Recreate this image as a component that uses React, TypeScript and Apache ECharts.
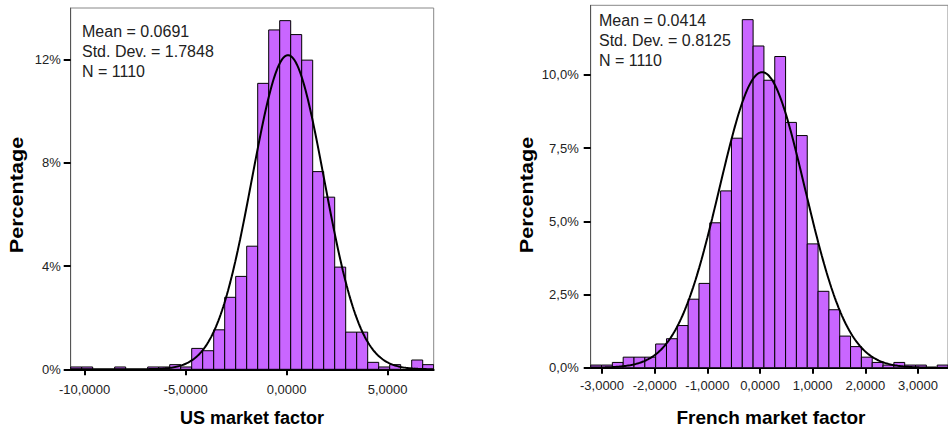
import React, { useEffect, useRef } from 'react';
import * as echarts from 'echarts';

// ---- US market factor histogram ----
const US_MEAN = 0.0691;
const US_SD = 1.7848;
const US_N = 1110;
const US_BIN_START = -10.69;
const US_BIN_WIDTH = 0.5446;
const US_PCT = [
  0.09, 0.09, 0, 0, 0.09, 0, 0, 0.09, 0.09, 0.18, 0.09,
  0.81, 0.72, 1.53, 2.79, 3.6, 4.77, 11.08, 13.15, 13.51, 12.97, 11.98, 7.66, 6.67, 3.96, 1.44, 1.44,
  0.27, 0.09, 0.18, 0, 0.36, 0.18,
];
const US_X_TICKS = [-10, -5, 0, 5];
const US_Y_TICKS = [0, 4, 8, 12];
const US_Y_MAX = 14;

// ---- French market factor histogram ----
const FR_MEAN = 0.0414;
const FR_SD = 0.8125;
const FR_N = 1110;
const FR_BIN_START = -3.215;
const FR_BIN_WIDTH = 0.2056;
const FR_PCT = [
  0.09, 0.09, 0.18, 0.36, 0.36, 0.36, 0.81, 0.99,
  1.44, 2.34, 2.88, 4.95, 6.04, 7.84,
  11.89, 10.99, 9.82, 10.63, 8.38, 7.93,
  4.23, 2.61, 1.98, 1.08, 0.72, 0.36, 0.18, 0.09, 0.18, 0.09, 0.09, 0, 0.09,
];
const FR_X_TICKS = [-3, -2, -1, 0, 1, 2, 3];
const FR_Y_TICKS = [0, 2.5, 5, 7.5, 10];
const FR_Y_MAX = 12.38;

const FONT = 'Liberation Sans, Arial, sans-serif';
const BAR_FILL = '#c966ff';

function bins(start: number, width: number, pct: number[]) {
  return pct.map((p, i) => [start + i * width, start + (i + 1) * width, p]);
}

function normalCurve(mean: number, sd: number, width: number, lo: number, hi: number) {
  const pts: number[][] = [];
  const steps = 300;
  for (let i = 0; i <= steps; i++) {
    const x = lo + ((hi - lo) * i) / steps;
    const z = (x - mean) / sd;
    const y = (100 * width * Math.exp(-0.5 * z * z)) / (sd * Math.sqrt(2 * Math.PI));
    pts.push([x, y]);
  }
  return pts;
}

const commaFmt = (d: number) => (v: number) => v.toFixed(d).replace('.', ',');

function renderBar(params: any, api: any) {
  const h = api.value(2);
  if (!h) return null;
  const p0 = api.coord([api.value(0), h]);
  const p1 = api.coord([api.value(1), 0]);
  return {
    type: 'rect',
    shape: { x: p0[0], y: p0[1], width: p1[0] - p0[0], height: p1[1] - p0[1] },
    style: { fill: BAR_FILL, stroke: '#000', lineWidth: 1 },
  };
}

export default function App() {
  const ref = useRef<HTMLDivElement>(null);
  useEffect(() => {
    if (!ref.current) return;
    const chart = echarts.init(ref.current, null, { renderer: 'svg' });
    const usMin = US_BIN_START;
    const usMax = US_BIN_START + US_PCT.length * US_BIN_WIDTH;
    const frMin = FR_BIN_START;
    const frMax = FR_BIN_START + FR_PCT.length * FR_BIN_WIDTH;

    const xAxisBase = (min: number, max: number, ticks: number[], gridIndex: number, margin: number) => ({
      type: 'value',
      gridIndex,
      min,
      max,
      splitLine: { show: false },
      axisLine: { show: true, onZero: false, lineStyle: { color: '#000', width: 2 } },
      axisTick: { show: true, customValues: ticks, length: 6, inside: false, lineStyle: { color: '#000', width: 2 } },
      axisLabel: {
        customValues: ticks,
        formatter: commaFmt(4),
        margin,
        color: '#222',
        fontFamily: FONT,
        fontSize: 13,
      },
    });
    const yAxisBase = (max: number, ticks: number[], gridIndex: number, fmt: (v: number) => string, margin: number) => ({
      type: 'value',
      gridIndex,
      min: 0,
      max,
      position: 'left',
      splitLine: { show: false },
      axisLine: { show: true, onZero: false, lineStyle: { color: '#555', width: 1 } },
      axisTick: { show: true, customValues: ticks, length: 7, inside: false, lineStyle: { color: '#000', width: 2 } },
      axisLabel: {
        customValues: ticks,
        formatter: fmt,
        margin,
        color: '#222',
        fontFamily: FONT,
        fontSize: 13,
      },
    });

    const statText = (x: number, y: number, mean: number, sd: number, n: number) => ({
      type: 'text',
      x,
      y,
      style: {
        text: `Mean = ${mean.toFixed(4)}\nStd. Dev. = ${sd.toFixed(4)}\nN = ${n}`,
        font: `16px ${FONT}`,
        fill: '#222',
        lineHeight: 20,
      },
    });

    chart.setOption({
      animation: false,
      backgroundColor: '#fff',
      grid: [
        { left: 70.7, top: 8, width: 363, height: 361.3, show: true, borderColor: '#888', borderWidth: 1, backgroundColor: 'transparent' },
        { left: 590.7, top: 5.3, width: 363, height: 362.4, show: true, borderColor: '#888', borderWidth: 1, backgroundColor: 'transparent' },
      ],
      xAxis: [
        xAxisBase(usMin, usMax, US_X_TICKS, 0, 14),
        xAxisBase(frMin, frMax, FR_X_TICKS, 1, 11),
      ],
      yAxis: [
        yAxisBase(US_Y_MAX, US_Y_TICKS, 0, (v: number) => `${v}%`, 10),
        yAxisBase(FR_Y_MAX, FR_Y_TICKS, 1, (v: number) => `${commaFmt(1)(v)}%`, 12),
      ],
      series: [
        {
          type: 'custom',
          xAxisIndex: 0,
          yAxisIndex: 0,
          renderItem: renderBar,
          encode: { x: [0, 1], y: 2 },
          data: bins(US_BIN_START, US_BIN_WIDTH, US_PCT),
          clip: true,
          z: 2,
        },
        {
          type: 'line',
          xAxisIndex: 0,
          yAxisIndex: 0,
          data: normalCurve(US_MEAN, US_SD, US_BIN_WIDTH, usMin, usMax),
          showSymbol: false,
          symbol: 'none',
          lineStyle: { color: '#000', width: 2 },
          clip: true,
          z: 3,
        },
        {
          type: 'custom',
          xAxisIndex: 1,
          yAxisIndex: 1,
          renderItem: renderBar,
          encode: { x: [0, 1], y: 2 },
          data: bins(FR_BIN_START, FR_BIN_WIDTH, FR_PCT),
          clip: true,
          z: 2,
        },
        {
          type: 'line',
          xAxisIndex: 1,
          yAxisIndex: 1,
          data: normalCurve(FR_MEAN, FR_SD, FR_BIN_WIDTH, frMin, frMax),
          showSymbol: false,
          symbol: 'none',
          lineStyle: { color: '#000', width: 2 },
          clip: true,
          z: 3,
        },
      ],
      graphic: [
        statText(82, 21, US_MEAN, US_SD, US_N),
        statText(599, 10, FR_MEAN, FR_SD, FR_N),
        {
          type: 'text',
          x: 252,
          y: 418,
          style: { text: 'US market factor', font: `bold 18px ${FONT}`, fill: '#000', align: 'center', verticalAlign: 'middle' },
        },
        {
          type: 'text',
          x: 771,
          y: 417,
          style: { text: 'French market factor', font: `bold 19px ${FONT}`, fill: '#000', align: 'center', verticalAlign: 'middle' },
        },
        {
          type: 'text',
          x: 17,
          y: 195,
          rotation: Math.PI / 2,
          scaleX: 1.2,
          style: { text: 'Percentage', font: `bold 18px ${FONT}`, fill: '#000', align: 'center', verticalAlign: 'middle' },
        },
        {
          type: 'text',
          x: 527,
          y: 195,
          rotation: Math.PI / 2,
          scaleX: 1.2,
          style: { text: 'Percentage', font: `bold 18px ${FONT}`, fill: '#000', align: 'center', verticalAlign: 'middle' },
        },
      ],
    });
    return () => chart.dispose();
  }, []);
  return (
    <div
      ref={ref}
      style={{ position: 'absolute', left: 0, top: 0, width: 948, height: 428, background: '#fff' }}
    />
  );
}
